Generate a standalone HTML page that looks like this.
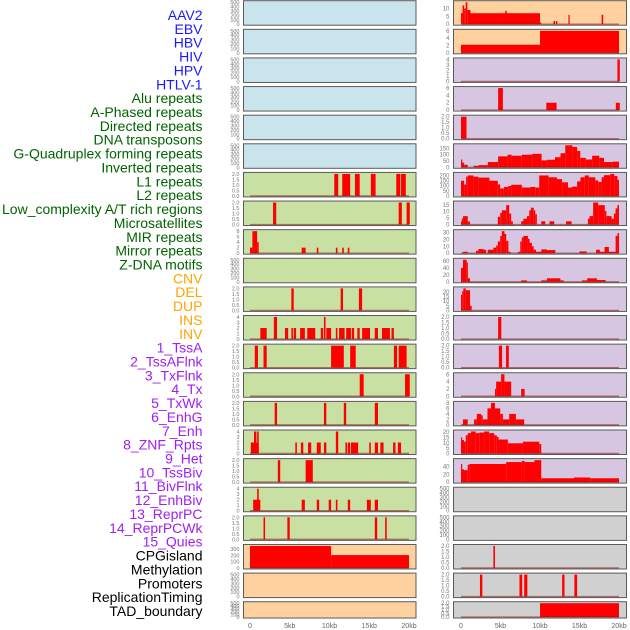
<!DOCTYPE html>
<html><head><meta charset="utf-8"><style>
html,body{margin:0;padding:0;background:#fff;}
svg{display:block;font-family:"Liberation Sans",sans-serif;}
</style></head><body>
<svg id="chart" width="630" height="630" viewBox="0 0 630 630" xmlns="http://www.w3.org/2000/svg">
<g id="labels"></g>
<g id="panels"></g>
<g id="xaxes"></g>
</svg>
<script>
// ---- track labels ----
const trackNames = ["AAV2","EBV","HBV","HIV","HPV","HTLV-1","Alu repeats","A-Phased repeats","Directed repeats","DNA transposons","G-Quadruplex forming repeats","Inverted repeats","L1 repeats","L2 repeats","Low_complexity A/T rich regions","Microsatellites","MIR repeats","Mirror repeats","Z-DNA motifs","CNV","DEL","DUP","INS","INV","1_TssA","2_TssAFlnk","3_TxFlnk","4_Tx","5_TxWk","6_EnhG","7_Enh","8_ZNF_Rpts","9_Het","10_TssBiv","11_BivFlnk","12_EnhBiv","13_ReprPC","14_ReprPCWk","15_Quies","CPGisland","Methylation","Promoters","ReplicationTiming","TAD_boundary"];
const trackGroup = [0,0,0,0,0,0,1,1,1,1,1,1,1,1,1,1,1,1,1,2,2,2,2,2,3,3,3,3,3,3,3,3,3,3,3,3,3,3,3,4,4,4,4,4];
const groupColors = ["#1a1aff","#006400","#ffa500","#a020f0","#000000"];
const panelBg = ["#c9e4ec","#c8e1a3","#ffd19e","#d6c6e2","#d0d0d0"];

// ---- x axis ----
const xTickKb = [0,5,10,15,20];
const xTickLabels = ["0","5kb","10kb","15kb","20kb"];

// ---- y ticks ----
const T500 = [0,100,200,300,400,500];
const T2 = [0,0.5,1,1.5,2];
const T4 = [0,1,2,3,4];
const T8 = [0,2,4,6,8];
const T6 = [0,2,4,6];
const T300 = [0,100,200,300];
const T10 = [0,5,10];
const T150 = [0,50,100,150];
const T200 = [0,50,100,150,200];
const T15 = [0,5,10,15];
const T30 = [0,10,20,30];
const T60 = [0,20,40,60];
const T20 = [0,5,10,15,20];
const T40 = [0,20,40];

// ---- segments [startKb, endKb, value] ----
const L06 = [[10.6,11.1,2],[11.6,12.6,2],[13.2,13.8,2],[15.2,15.8,2],[18.4,18.9,2],[19.0,19.6,2]];
const L07 = [[2.9,3.3,2],[18.7,19.1,2],[19.7,20.1,2]];
const L08 = [[0,0.3,2],[0.3,0.9,8],[0.9,1.1,4],[6.5,7.0,2],[8.4,8.6,2],[10.8,11.0,2],[11.6,11.8,2],[12.3,12.5,2]];
const L10 = [[5.2,5.5,2],[11.4,11.7,2],[13.7,14.1,2]];
const L11 = [[1.3,2.1,2],[3.0,3.4,4],[4.4,4.8,2],[5.2,5.4,2],[5.5,5.8,2],[6.3,6.9,2],[7.2,8.2,2],[8.9,9.2,2],[9.3,9.5,4],[9.6,10.2,2],[10.8,11.0,2],[11.2,11.9,2],[12.1,12.7,2],[12.8,13.1,2],[13.5,13.8,2],[14.1,15.1,2],[15.7,16.1,2],[16.6,17.6,2],[17.8,18.1,2]];
const L12 = [[0.6,1.0,2],[1.7,2.1,2],[10.2,11.8,2],[12.6,13.3,2],[18.1,18.5,2],[18.7,19.7,2]];
const L13 = [[13.8,14.3,2],[19.5,20.1,2]];
const L14 = [[3.1,3.4,2],[9.3,9.6,2],[11.8,12.1,2],[15.7,16.1,2]];
const L15 = [[0.1,1.1,2],[0.5,0.8,4],[0.9,1.1,4],[5.7,5.9,2],[6.4,6.7,2],[7.3,7.7,2],[8.4,8.9,2],[9.3,9.6,2],[10.8,11.1,4],[12.0,12.2,2],[12.3,12.6,2],[12.7,13.6,2],[15.0,15.2,2],[15.7,16.1,2],[16.4,16.8,2],[18.0,18.3,2],[18.6,19.0,2]];
const L16 = [[3.5,3.8,2],[7.0,7.9,2]];
const L17 = [[0.4,1.3,2],[0.9,1.1,4],[6.5,6.9,2],[8.4,8.7,2],[9.9,10.2,2],[10.8,11.0,2],[12.3,12.6,2],[14.7,15.2,2],[15.7,16.1,2]];
const L18 = [[1.7,1.9,2],[4.7,5.0,2],[15.7,16.0,2],[17.0,17.2,2]];
const L19 = [[0,10.2,350],[10.2,20,205]];

const R00 = [[0,0.2,7],[0.2,0.4,12],[0.4,0.6,10],[0.6,0.8,14],[0.8,1.2,9],[1.2,10.0,7],[5.6,5.8,8.5],[10.0,10.1,1],[11.7,11.9,2],[12.0,12.2,2],[13.6,13.7,6],[17.8,18.0,6]];
const R01 = [[0,10.0,2.2],[10.0,20.0,6]];
const R02 = [[19.8,20.1,4]];
const R03 = [[4.7,5.3,6],[10.8,12.1,2],[19.6,20.1,2]];
const R04 = [[0,0.7,2]];
const R05 = [[0,0.1,62],[0.1,0.4,37],[0.4,0.85,20],[1.6,2.2,12],[2.2,3.4,17],[3.4,4.7,42],[4.7,5.9,87],[5.9,6.4,100],[6.4,7.7,92],[7.7,9.0,100],[9.0,10.2,107],[10.2,10.9,55],[10.9,11.9,60],[11.9,12.6,80],[12.6,13.2,112],[13.2,14.1,175],[14.1,14.7,162],[14.7,15.1,130],[15.1,15.8,75],[15.8,16.6,62],[16.6,17.5,92],[17.5,18.1,75],[18.1,19.2,42],[19.2,20,45]];
const R06 = [[0,0.4,148],[0.4,0.64,112],[0.64,0.85,188],[0.85,1.57,200],[1.57,2.2,188],[2.2,3.6,179],[3.6,4.66,148],[4.66,4.96,112],[4.96,5.42,73],[5.42,6.0,88],[6.0,6.35,97],[6.35,7.7,109],[7.7,8.8,82],[8.8,9.4,88],[9.4,9.9,82],[9.9,11.1,200],[11.1,12.15,182],[12.15,12.8,164],[12.8,13.55,133],[13.55,14.06,82],[14.06,14.7,91],[14.7,15.12,142],[15.12,15.67,182],[15.67,16.18,200],[16.18,17.0,182],[17.0,17.37,152],[17.37,17.8,136],[17.8,18.1,182],[18.1,18.9,203],[18.9,19.4,215],[19.4,19.8,194],[19.8,20,158]];
const R07 = [[0,0.1,2.3],[0.1,0.26,4.6],[0.26,0.85,6.5],[0.85,1.14,2.3],[4.66,4.96,6],[4.96,5.17,9],[5.17,5.72,11],[5.72,6.1,15],[6.1,6.35,8.5],[6.35,6.56,2.5],[7.62,7.9,2.5],[7.9,8.35,4.5],[8.35,8.64,6.5],[8.64,8.85,11],[8.85,9.2,13],[9.2,9.4,11],[9.4,9.6,8],[10.16,10.67,2.5],[11.2,11.8,2.5],[13.3,14.0,2.5],[16.06,16.27,4.5],[16.27,16.73,6.5],[16.73,17.37,17],[17.37,18.2,15],[18.2,18.4,10.5],[18.4,19.06,6.5],[19.06,19.35,4.5],[19.35,19.57,8.5],[19.57,19.8,12.5],[19.8,20,15]];
const R08 = [[0.25,0.85,2],[1.9,2.2,3.5],[2.2,2.84,6],[2.84,3.18,5],[3.39,4.1,5],[4.1,4.45,8],[4.45,4.66,11],[4.66,4.96,17],[4.96,5.17,25],[5.17,5.5,32],[5.5,5.72,28],[5.72,6.0,18],[6.0,6.27,2],[7.2,7.5,2],[7.5,7.7,17],[7.7,7.9,23],[7.9,8.47,25],[8.47,8.68,21],[8.68,8.98,15],[8.98,9.2,10],[9.2,9.5,5],[9.5,10.16,2],[10.16,10.88,5.5],[10.88,11.94,4.5],[15.0,15.9,2.5],[17.1,17.58,5],[17.58,18.17,2],[18.17,18.72,9],[18.72,19.57,2],[19.57,19.8,25],[19.8,20,29]];
const R09 = [[0,0.25,40],[0.25,0.72,63],[0.72,0.85,55],[0.85,1.14,10],[7.62,8.35,4],[10.16,10.88,4],[10.88,12.58,10],[12.58,13.0,4],[15.3,15.97,4],[15.97,17.2,10],[17.2,18.3,5]];
const R10 = [[0,0.15,17],[0.15,0.3,21],[0.3,0.6,24],[0.6,1.15,22],[1.15,1.35,5]];
const R11 = [[4.7,5.1,2]];
const R12 = [[4.8,5.2,2],[5.7,6.05,2]];
const R13 = [[4.3,4.45,2],[4.45,5.08,4],[5.08,5.5,6],[5.5,6.35,4],[7.62,8.05,2]];
const R14 = [[0.25,0.85,2],[1.65,2.0,2],[2.0,2.54,4],[2.54,2.75,3.5],[2.75,3.35,2],[3.35,3.8,6],[3.8,4.3,8],[4.3,4.96,6],[4.96,5.3,4],[5.3,6.1,2],[6.1,6.95,4],[6.95,8.0,2]];
const R15 = [[0,0.08,15],[0.08,0.38,12.5],[0.38,0.6,11],[0.6,0.85,17],[0.85,1.27,19],[1.27,1.86,20.5],[1.86,2.3,19],[2.3,2.92,19.5],[2.92,3.56,20.5],[3.56,4.2,19],[4.2,4.53,17],[4.53,4.75,15.5],[4.75,5.93,13],[5.93,7.84,9.5],[7.84,9.9,11],[9.9,10.16,9]];
const R16 = [[0,0.08,47],[0.08,0.38,33],[0.38,0.85,31],[0.85,1.06,45],[1.06,5.72,47],[5.72,7.7,52],[7.7,8.05,55],[8.05,9.3,52],[9.3,10.16,57],[10.16,14.3,10],[14.3,16.35,12],[16.35,20,10]];
const R19 = [[4.1,4.3,2]];
const R20 = [[2.4,2.7,2],[7.4,7.75,2],[8.0,8.4,2],[12.8,13.1,2],[14.35,14.7,2]];
const R21 = [[10.0,20.0,2]];

const leftSegs  = [null,null,null,null,null,null,L06,L07,L08,null,L10,L11,L12,L13,L14,L15,L16,L17,L18,L19,null,null];
const leftTicks = [T500,T500,T500,T500,T500,T500,T2,T2,T8,T500,T2,T4,T2,T2,T2,T4,T2,T4,T2,T300,T500,T500];
const rightSegs = [R00,R01,R02,R03,R04,R05,R06,R07,R08,R09,R10,R11,R12,R13,R14,R15,R16,null,null,R19,R20,R21];
const rightTicks= [T10,T6,T4,T6,T2,T150,T200,T15,T30,T60,T20,T2,T2,T6,T8,T20,T40,T500,T500,T2,T2,T2];

const NS = "http://www.w3.org/2000/svg";
function mk(tag, attrs, parent){
  const e = document.createElementNS(NS, tag);
  for (const k in attrs) e.setAttribute(k, attrs[k]);
  parent.appendChild(e);
  return e;
}

// labels
const gL = document.getElementById("labels");
trackNames.forEach((n,i)=>{
  const t = mk("text",{x:202.5,y:20+i*13.86,"text-anchor":"end","font-size":"14",fill:groupColors[trackGroup[i]]},gL);
  t.textContent = n;
  
  
});

const gP = document.getElementById("panels");
const cols = [
  {x0:243.5, x1:416, kb0:250, kb20:409, segs:leftSegs, ticks:leftTicks, offset:0},
  {x0:453.5, x1:626.5, kb0:461, kb20:619, segs:rightSegs, ticks:rightTicks, offset:22}
];
function fmt(v, arr){
  const dec = arr.some(a=>a%1!==0);
  return dec ? v.toFixed(1) : String(v);
}
cols.forEach((c,ci)=>{
  const xs = kb => c.kb0 + kb*(c.kb20-c.kb0)/20;
  for (let r=0;r<22;r++){
    const top = r*28.62 + 0.7;
    const h = r===21 ? 16.3 : 24.5;
    const bottom = top + h;
    const tIdx = r + c.offset;
    const g = mk("g",{},gP);
    
    
    mk("rect",{x:c.x0,y:top,width:c.x1-c.x0,height:h,fill:panelBg[trackGroup[tIdx]]},g);
    const segs = c.segs[r];
    const ticks = c.ticks[r];
    let M = ticks[ticks.length-1];
    if (segs) M = Math.max(...segs.map(s=>s[2]));
    if (segs && M < ticks[ticks.length-1]) M = ticks[ticks.length-1];
    const ys = v => bottom - 1 - v/M*(h-2.5);
    if (segs){
      segs.forEach(s=>{
        const b = mk("rect",{x:xs(s[0]),y:ys(s[2]),width:Math.max(1.2,xs(s[1])-xs(s[0])),height:ys(0)-ys(s[2]),fill:"#ff0000"},g);
        
        
      });
      const bl = mk("line",{x1:xs(0),x2:xs(20),y1:ys(0),y2:ys(0),stroke:"rgba(150,20,20,0.55)","stroke-width":1.4},g);
      
      
    }
    mk("rect",{x:c.x0,y:top,width:c.x1-c.x0,height:h,fill:"none",stroke:"#5a5a5a","stroke-width":1},g);
    ticks.forEach(tv=>{
      const tt = mk("text",{x:c.x0-4,y:ys(tv)+2,"text-anchor":"end","font-size":ci===0?"5.5":"6",fill:"#777"},g);
      tt.textContent = fmt(tv, ticks);
      
      
    });
  }
  const gx = document.getElementById("xaxes");
  xTickKb.forEach((k,i)=>{
    const t = mk("text",{x:xs(k),y:628,"text-anchor":"middle","font-size":"7",fill:"#666"},gx);
    t.textContent = xTickLabels[i];
    
    
  });
});
</script>
</body></html>
